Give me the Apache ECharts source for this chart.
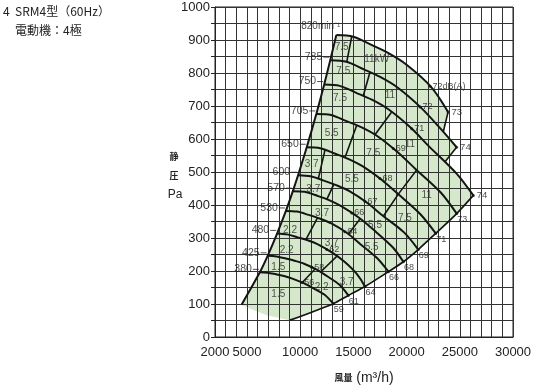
<!DOCTYPE html>
<html><head><meta charset="utf-8">
<script src="https://cdn.jsdelivr.net/npm/echarts@6/dist/echarts.min.js"></script>
<style>html,body{margin:0;padding:0;background:#fff}#c{width:550px;height:390px}</style>
</head><body><div id="c"></div>
<script>
// ---- data ----
const xTickLabels = [2000, 5000, 10000, 15000, 20000, 25000, 30000];
const speeds = ['820', '785', '750', '705', '650', '600', '570', '530', '480', '425', '380'];

const curve820 = [[13400,915],[15000,910],[16700,885],[18300,860],[20000,825],[22300,758],[23900,682]];
const curve785 = [[12830,839],[14360,834],[15990,811],[17520,788],[19150,756],[21350,695],[23170,632],[24700,575]];
const curve750 = [[12260,765],[13720,761],[15270,740],[16740,719],[18290,690],[20400,634],[22130,577],[24700,495],[26270,429]];
const curve705 = [[11520,676],[12900,673],[14360,654],[15730,636],[17200,610],[19170,560],[20810,510],[23210,438],[24710,374]];
const curve650 = [[10620,575],[11890,572],[13240,556],[14510,540],[15850,518],[17680,476],[19180,434],[21300,372],[22740,314]];
const curve600 = [[9805,490],[10980,487],[12220,474],[13390,460],[14630,442],[16320,406],[17710,369],[19760,317],[21100,265]];
const curve570 = [[9315,442],[10430,440],[11610,428],[12720,415],[13900,396],[15500,362],[16820,327],[18700,272],[19700,228]];
const curve530 = [[8661,382],[9695,380],[10790,370],[11830,359],[12930,344],[14410,315],[15640,282],[17200,240],[18300,198]];
const curve480 = [[7844,314],[8780,311],[9776,302],[10710,293],[11710,280],[13050,255],[14170,228],[15300,192],[16094,153]];
const curve425 = [[6945,246],[7774,244],[8655,238],[9485,231],[10370,222],[11560,204],[12540,184],[13700,158],[14525,126]];
const curve380 = [[6210,196],[6951,195],[7739,190],[8480,185],[9268,177],[10330,163],[11215,148],[12300,128],[13115,101]];

const surgeLine = [[4500,98],[6210,196],[6945,246],[7844,314],[8661,382],[9315,442],[9805,490],[10620,575],[11520,676],[12260,765],[12830,839],[13400,915]];
const systemLine = [[9047,51],[13115,101],[14525,126],[16094,153],[18300,198],[19700,228],[21100,265],[22740,314],[24710,374],[26270,429]];
const bottomEdge = [[9047,51],[6860,66],[4980,90],[4500,98]];
const cutoff820 = [[23900,682],[23450,622]];
const cutoff785 = [[24700,575],[23600,530]];

const kwDividers = [
  [[14380,834],[14850,911]],
  [[15930,731],[16560,802]],
  [[17030,613],[18600,682]],
  [[14215,544],[15310,641]],
  [[19225,433],[20950,506]],
  [[11706,479],[12336,567]],
  [[17815,366],[19225,433]],
  [[12510,417],[13170,463]],
  [[14540,312],[15640,358]],
  [[10540,295],[11630,361]],
  [[11920,197],[13460,245]],
  [[10200,165],[11400,206]]
];

const kwLabels = [
  [13900,877,'7.5'],[17190,842,'11kW'],[14055,804,'7.5'],[18440,732,'11'],
  [13745,722,'7.5'],[20320,583,'11'],[12965,618,'5.5'],[16870,558,'7.5'],
  [21890,429,'11'],[11086,523,'3.7'],[14870,478,'5.5'],[19850,359,'7.5'],
  [11236,449,'3.7'],[17034,339,'5.5'],[12054,376,'3.7'],[16724,272,'5.5'],
  [9047,324,'2.2'],[12965,284,'3.7'],[8737,263,'2.2'],[14375,165,'3.7'],
  [7948,210,'1.5'],[12026,150,'2.2'],[7948,130,'1.5']
];

const dbMid = [
  [22200,760,'72dB(A)'],[21260,697,'72'],[20480,631,'71'],[18750,571,'69'],
  [17500,480,'68'],[16090,411,'67'],[14845,376,'66'],[14200,319,'64'],
  [12500,265,'62'],[11090,211,'58'],[10150,165,'56']
];
const dbEnd = ['73','74','74','73','71','69','68','66','64','61','59'];

// ---- chart ----
const curves = [curve820, curve785, curve750, curve705, curve650, curve600, curve570, curve530, curve480, curve425, curve380];

const region = [].concat(
  surgeLine,
  curve820.slice(1),
  [cutoff820[1]],
  curve785.filter(p => p[0] > cutoff820[1][0]),
  [cutoff785[1]],
  curve750.filter(p => p[0] > cutoff785[1][0]),
  systemLine.slice().reverse().slice(1),
  bottomEdge.slice(1)
);

const lineBase = { type: 'line', showSymbol: false, silent: true, z: 3, animation: false };
const series = [];

series.push({
  type: 'custom', z: 0, silent: true, data: [[10000, 300]],
  renderItem: (params, api) => ({
    type: 'polygon',
    shape: { points: region.map(p => api.coord(p)) },
    style: { fill: '#d5e8cb', stroke: null }
  })
});

curves.forEach((c, i) => {
  series.push(Object.assign({}, lineBase, {
    name: speeds[i], data: c, smooth: 0.3,
    lineStyle: { color: '#141414', width: 2 }
  }));
});
series.push(Object.assign({}, lineBase, { data: surgeLine, smooth: 0.3, lineStyle: { color: '#141414', width: 2 } }));
series.push(Object.assign({}, lineBase, { data: systemLine, smooth: 0.3, lineStyle: { color: '#141414', width: 1.7 } }));
[cutoff820, cutoff785].concat(kwDividers).forEach(seg => {
  series.push(Object.assign({}, lineBase, { data: seg, lineStyle: { color: '#141414', width: 1.6 } }));
});

const font = 'Liberation Sans, Arial, sans-serif';

series.push({
  type: 'scatter', z: 5, silent: true, symbolSize: 0,
  data: kwLabels.map(d => ({ value: [d[0], d[1]], name: d[2] })),
  label: { show: true, position: 'inside', formatter: '{b}', fontSize: 10, color: '#2a2a2a', fontFamily: font }
});

series.push({
  type: 'scatter', z: 5, silent: true, symbolSize: 3, itemStyle: { color: '#111' },
  data: dbMid.map(d => ({ value: [d[0], d[1]], name: d[2] })),
  label: { show: true, position: 'right', distance: 1, formatter: '{b}', fontSize: 9, color: '#1a1a1a', fontFamily: font }
});

series.push({
  type: 'scatter', z: 5, silent: true, symbolSize: 3, itemStyle: { color: '#111' },
  data: curves.slice(0, 3).map((c, i) => ({ value: c[c.length - 1], name: dbEnd[i] })),
  label: { show: true, position: 'right', distance: 2, formatter: '{b}', fontSize: 9.5, color: '#1a1a1a', fontFamily: font }
});
series.push({
  type: 'scatter', z: 5, silent: true, symbolSize: 3, itemStyle: { color: '#111' },
  data: curves.slice(3).map((c, i) => ({ value: c[c.length - 1], name: dbEnd[i + 3] })),
  label: { show: true, position: 'right', distance: 0, offset: [-1, 6], formatter: '{b}', fontSize: 9, color: '#1a1a1a', fontFamily: font }
});

series.push({
  type: 'scatter', z: 5, silent: true, symbolSize: 0,
  data: [{ value: curve820[0], name: speeds[0] }],
  label: { show: true, position: 'left', distance: 0, offset: [4, -9], formatter: p => p.name + 'min⁻¹', fontSize: 10, color: '#1a1a1a', fontFamily: font }
});
series.push({
  type: 'scatter', z: 5, silent: true, symbolSize: 0,
  data: curves.slice(1).map((c, i) => ({ value: c[0], name: speeds[i + 1] })),
  label: {
    show: true, position: 'left', distance: 1, offset: [0, -3],
    formatter: p => '{t|' + p.name + '}{d|}',
    rich: {
      t: { fontSize: 10.5, color: '#1a1a1a', fontFamily: font, padding: [0, 1, 0, 0] },
      d: { width: 6, height: 1, backgroundColor: '#222' }
    }
  }
});

const option = {
  animation: false,
  grid: { left: 215, right: 37, top: 7, bottom: 48, show: true, borderColor: '#222', borderWidth: 1, backgroundColor: 'transparent' },
  xAxis: {
    type: 'value', min: 2000, max: 30000, interval: 1000, z: 1,
    axisLine: { show: true, onZero: false, lineStyle: { color: '#222', width: 1 } },
    axisTick: { show: false },
    splitLine: { show: true, lineStyle: { color: '#333', width: 1 } },
    axisLabel: { formatter: v => xTickLabels.includes(v) ? String(v) : '', margin: 9, fontSize: 13, color: '#222', fontFamily: font, showMinLabel: true, showMaxLabel: true },
    name: '{a|風量}{b| (m³/h)}', nameLocation: 'middle', nameGap: 34,
    nameTextStyle: { rich: { a: { fontSize: 9, fontWeight: 'bold', color: '#222', fontFamily: 'Noto Sans CJK JP' }, b: { fontSize: 14, color: '#222', fontFamily: font } } }
  },
  yAxis: {
    type: 'value', min: 0, max: 1000, interval: 50, z: 1,
    axisLine: { show: true, onZero: false, lineStyle: { color: '#222', width: 1 } },
    axisTick: { show: true, length: 4, lineStyle: { color: '#222' } },
    splitLine: { show: true, lineStyle: { color: '#333', width: 1 } },
    axisLabel: { formatter: v => v % 100 === 0 ? String(v) : '', margin: 5, fontSize: 13, color: '#222', fontFamily: font }
  },
  graphic: [
    { type: 'text', left: 3, top: 5, style: { text: '4  SRM4型（60Hz）', fontSize: 12, fill: '#222', fontFamily: 'Noto Sans CJK JP' } },
    { type: 'text', left: 15, top: 24, style: { text: '電動機：4極', fontSize: 12, fill: '#222', fontFamily: 'Noto Sans CJK JP' } },
    { type: 'text', x: 174, y: 157, style: { text: '静', fontSize: 9, fontWeight: 'bold', fill: '#222', align: 'center', verticalAlign: 'middle', fontFamily: 'Noto Sans CJK JP' } },
    { type: 'text', x: 174, y: 176, style: { text: '圧', fontSize: 9, fontWeight: 'bold', fill: '#222', align: 'center', verticalAlign: 'middle', fontFamily: 'Noto Sans CJK JP' } },
    { type: 'text', x: 175, y: 195, style: { text: 'Pa', fontSize: 12, fill: '#222', align: 'center', verticalAlign: 'middle', fontFamily: font } }
  ],
  series: series
};

const chart = echarts.init(document.getElementById('c'), null, { renderer: 'canvas' });
chart.setOption(option);
</script>
</body></html>
